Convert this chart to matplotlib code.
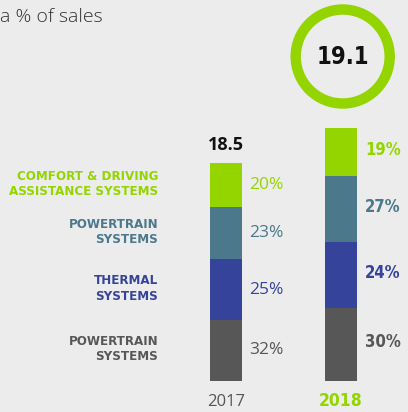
import matplotlib
matplotlib.use("Agg")
import matplotlib.pyplot as plt
from matplotlib.patches import Circle

# ---- data ----
years = ["2017", "2018"]
totals = ["18.5", "19.1"]
categories = ["POWERTRAIN\nSYSTEMS", "THERMAL\nSYSTEMS", "POWERTRAIN\nSYSTEMS", "COMFORT & DRIVING\nASSISTANCE SYSTEMS"]
pct_2017 = ["32%", "25%", "23%", "20%"]
pct_2018 = ["30%", "24%", "27%", "19%"]
# drawn segment heights (bottom to top)
seg_2017 = [60.7, 61.0, 52.0, 44.0]
seg_2018 = [73.0, 66.0, 66.0, 47.7]
colors = ["#575757", "#35449a", "#4b788a", "#94d500"]
title = "a % of sales"

BG = "#ececec"
W, H = 408, 412
fig = plt.figure(figsize=(W / 100, H / 100), dpi=100, facecolor=BG)
ax = fig.add_axes([0, 0, 1, 1])
ax.set_xlim(0, W)
ax.set_ylim(H, 0)
ax.axis("off")
ax.set_facecolor(BG)

cond = dict(family="DejaVu Sans", stretch="condensed", weight="bold")
light = ["Open Sans", "DejaVu Sans"]

base = 380.7
xs = [226, 341]
bw = 32

def stack(x, segs):
    centers = []
    b = base
    for h, c in zip(segs, colors):
        ax.bar(x, -h, bottom=b, width=bw, color=c, linewidth=0)
        centers.append(b - h / 2)
        b -= h
    return centers, b

c17, top17 = stack(xs[0], seg_2017)
c18, top18 = stack(xs[1], seg_2018)

for yc, t, c in zip(c17, pct_2017, colors):
    ax.text(249, yc, t, color=c, fontsize=12.5, family=light, weight="normal",
            ha="left", va="center")
for yc, t, c in zip(c18, pct_2018, colors):
    ax.text(365, yc - 2, t, color=c, fontsize=12, ha="left", va="center", **cond)

for yc, t, c in zip(c17, categories, colors):
    ax.text(158, yc - 1, t, color=c, fontsize=9.5, ha="right", va="center",
            multialignment="right", linespacing=1.2, **cond)

ax.text(xs[0], top17 - 18, totals[0], color="#111111", fontsize=13, family=light,
        weight="bold", ha="center", va="center")

# circle with 2018 total
ax.add_patch(Circle((342.7, 56.5), 47, fill=False, edgecolor=colors[3], linewidth=7.5))
ax.text(342.7, 57, totals[1], color="#111111", fontsize=17, ha="center", va="center",
        **dict(cond, weight="heavy"))

ax.text(xs[0], 401.5, years[0], color="#555555", fontsize=12, family=light,
        weight="normal", ha="center", va="center")
ax.text(xs[1], 401.5, years[1], color=colors[3], fontsize=12.5, ha="center",
        va="center", **cond)

ax.text(0, 17, title, color="#333333", fontsize=14, family=light, weight="light",
        ha="left", va="center")

fig.savefig("out.png", dpi=100, facecolor=BG)
